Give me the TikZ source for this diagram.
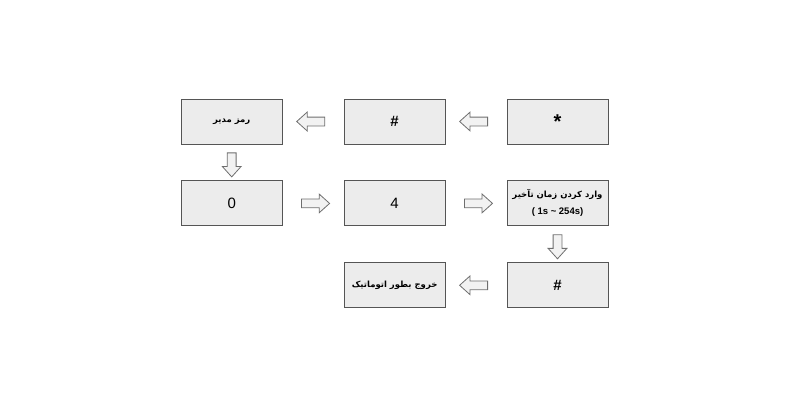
\documentclass[tikz,border=0pt]{standalone}
\usepackage{fontspec}
\setmainfont{Liberation Sans}
\newfontfamily\arabicfont[Script=Arabic]{DejaVu Sans}
\TeXXeTstate=1
\usepackage{tikz}
\usetikzlibrary{positioning}
\usetikzlibrary{shapes.arrows}
\definecolor{boxfill}{RGB}{236,236,236}
\definecolor{boxline}{RGB}{85,85,85}
\definecolor{arrfill}{RGB}{242,242,242}
\definecolor{arrline}{RGB}{110,110,110}
\newcommand{\fa}[1]{{\arabicfont\bfseries\fontsize{8.5}{10}\selectfont\beginR #1\endR}}

\begin{document}
\begin{tikzpicture}[x=1pt,y=1pt,
    stepbox/.style={draw=boxline,fill=boxfill,line width=0.9pt,
      minimum width=101pt,minimum height=45pt,inner sep=2pt,align=center},
    hollowarrow/.style={single arrow,draw=arrline,fill=arrfill,line width=0.8pt,
      inner xsep=0pt,inner ysep=4pt,single arrow head extend=5pt,
      single arrow tip angle=84,single arrow head indent=0pt,
      minimum height=#1,sloped,allow upside down},
    hollowarrow/.default=28pt]
    \useasboundingbox (0,0) rectangle (800,-400);
    % top row, right to left
    \node[stepbox] (star) at (557.5,-121.5) {\fontsize{20}{20}\selectfont\bfseries\raisebox{-0.28em}{*}};
    \node[stepbox,left=61pt of star] (hashA) {\fontsize{15}{15}\selectfont\bfseries\#};
    \node[stepbox,left=61pt of hashA] (admin) {\fa{رمز مدیر}};
    % middle row
    \node[stepbox,below=36pt of admin] (zero) {\fontsize{15}{15}\selectfont 0};
    \node[stepbox,right=61pt of zero] (four) {\fontsize{15}{15}\selectfont 4};
    \node[stepbox,right=61pt of four] (delay) {\fa{وارد کردن زمان تآخیر}\\[5pt]
      {\bfseries\fontsize{9.5}{10}\selectfont ( 1s \textasciitilde{} 254s)}};
    % bottom row
    \node[stepbox,below=36pt of delay] (hashB) {\fontsize{15}{15}\selectfont\bfseries\#};
    \node[stepbox,left=61pt of hashB] (quit) {\fa{خروج بطور اتوماتیک}};
    % arrows
    \path (star) -- node[hollowarrow]{} (hashA);
    \path (hashA) -- node[hollowarrow]{} (admin);
    \path (admin) -- node[hollowarrow=24pt]{} (zero);
    \path (zero) -- node[hollowarrow]{} (four);
    \path (four) -- node[hollowarrow]{} (delay);
    \path (delay) -- node[hollowarrow=24pt]{} (hashB);
    \path (hashB) -- node[hollowarrow]{} (quit);
\end{tikzpicture}
\end{document}
